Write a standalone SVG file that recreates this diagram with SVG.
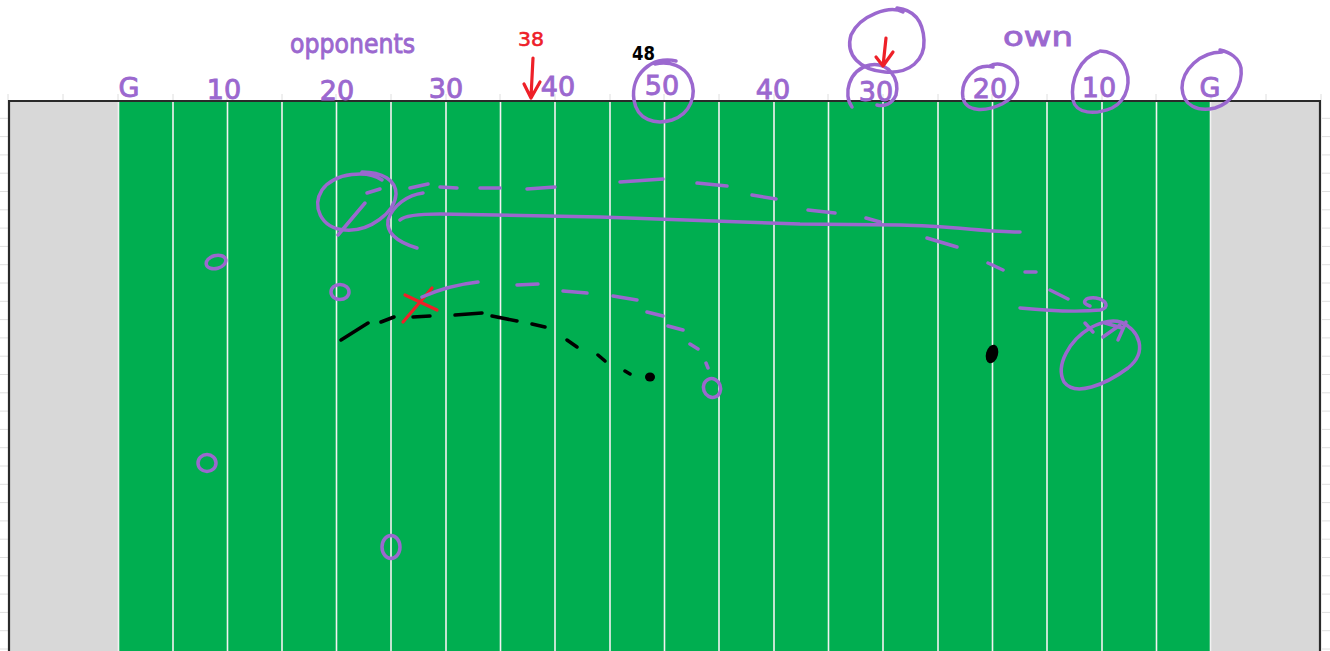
<svg xmlns="http://www.w3.org/2000/svg" width="1330" height="651" viewBox="0 0 1330 651">
<style>
.grid{stroke:#dedede;stroke-width:1}
.yard{stroke:#f2f2f2;stroke-width:1.6}
.pu{fill:none;stroke:#9b68cf;stroke-width:3.5;stroke-linecap:round;stroke-linejoin:round}
.bk{fill:none;stroke:#000;stroke-width:3.5;stroke-linecap:round}
.rd{fill:none;stroke:#ee2028;stroke-width:3.2;stroke-linecap:round;stroke-linejoin:round}
.num{font-family:"DejaVu Sans","Liberation Sans",sans-serif;font-size:27px;fill:#9b68cf;stroke:#9b68cf;stroke-width:0.9;text-anchor:middle}
.word{font-family:"DejaVu Sans","Liberation Sans",sans-serif;fill:#9b68cf;stroke:#9b68cf;stroke-width:0.9}
</style>
<rect width="1330" height="651" fill="#fff"/>
<g id="gridlines" class="grid">
<path d="M8,94V100M63,94V100M118,94V100M173,94V100M227,94V100M282,94V100M336,94V100M391,94V100M446,94V100M500,94V100M555,94V100M610,94V100M664,94V100M719,94V100M774,94V100M828,94V100M883,94V100M938,94V100M992,94V100M1047,94V100M1102,94V100M1156,94V100M1211,94V100M1266,94V100M1321,94V100"/>
<path d="M0,118.3H8M0,136.6H8M0,154.9H8M0,173.2H8M0,191.5H8M0,209.8H8M0,228.1H8M0,246.4H8M0,264.7H8M0,283H8M0,301.3H8M0,319.6H8M0,337.9H8M0,356.2H8M0,374.5H8M0,392.8H8M0,411.1H8M0,429.4H8M0,447.7H8M0,466H8M0,484.3H8M0,502.6H8M0,520.9H8M0,539.2H8M0,557.5H8M0,575.8H8M0,594.1H8M0,612.4H8M0,630.7H8M0,649H8"/>
<path d="M1322,118.3H1330M1322,136.6H1330M1322,154.9H1330M1322,173.2H1330M1322,191.5H1330M1322,209.8H1330M1322,228.1H1330M1322,246.4H1330M1322,264.7H1330M1322,283H1330M1322,301.3H1330M1322,319.6H1330M1322,337.9H1330M1322,356.2H1330M1322,374.5H1330M1322,392.8H1330M1322,411.1H1330M1322,429.4H1330M1322,447.7H1330M1322,466H1330M1322,484.3H1330M1322,502.6H1330M1322,520.9H1330M1322,539.2H1330M1322,557.5H1330M1322,575.8H1330M1322,594.1H1330M1322,612.4H1330M1322,630.7H1330M1322,649H1330"/>
</g>
<g id="field">
<rect x="8" y="100" width="110" height="560" fill="#d8d8d8"/>
<rect x="1211" y="100" width="110" height="560" fill="#d8d8d8"/>
<rect x="118" y="100" width="1093" height="560" fill="#00ae50"/>
<path class="yard" d="M118.5,100V651M173,100V651M227.5,100V651M282,100V651M336.5,100V651M391,100V651M446,100V651M500.5,100V651M555,100V651M610,100V651M664.5,100V651M719,100V651M774,100V651M828.5,100V651M883,100V651M938,100V651M992.5,100V651M1047,100V651M1102,100V651M1156.5,100V651M1210.5,100V651"/>
<path d="M9,660V101H1320V660" fill="none" stroke="#2a2a2a" stroke-width="2.2"/>
</g>
<g id="labels">
<text class="num" x="129" y="97">G</text>
<text class="num" x="224" y="99">10</text>
<text class="num" x="337" y="100">20</text>
<text class="num" x="446" y="98">30</text>
<text class="num" x="558" y="96">40</text>
<text class="num" x="662" y="95">50</text>
<text class="num" x="773" y="99">40</text>
<text class="num" x="876" y="101">30</text>
<text class="num" x="990" y="98">20</text>
<text class="num" x="1099" y="97">10</text>
<text class="num" x="1210" y="97">G</text>
<text class="word" x="290" y="53" font-size="26" textLength="125" lengthAdjust="spacingAndGlyphs">opponents</text>
<text class="word" x="1003" y="46" font-size="27" textLength="70" lengthAdjust="spacingAndGlyphs">own</text>
<text x="518" y="46" font-family="DejaVu Sans, sans-serif" font-size="20" fill="#ee2028" stroke="#ee2028" stroke-width="0.6" textLength="26" lengthAdjust="spacingAndGlyphs">38</text>
<text x="632" y="60" font-family="DejaVu Sans, sans-serif" font-size="19" font-weight="bold" fill="#000" textLength="23" lengthAdjust="spacingAndGlyphs">48</text>
</g>
<g id="marks">
<path class="pu" d="M676,61 C652,55 630,75 634,100 C637,120 655,125 672,120 C690,114 698,95 690,78 C684,66 670,61 655,64"/>
<path class="pu" d="M852,107 C843,95 848,70 870,65 C888,62 900,78 896,95 C892,104 884,107 877,105"/>
<path class="pu" d="M903,12 C890,5 860,15 851,35 C845,55 860,70 885,72 C910,74 925,60 924,40 C923,22 915,10 897,8"/>
<path class="pu" d="M993,67 C975,63 960,80 963,98 C966,112 985,112 1002,104 C1018,96 1022,80 1012,70 C1004,63 995,63 990,66"/>
<path class="pu" d="M1098,52 C1080,58 1070,80 1073,100 C1076,114 1095,115 1112,108 C1128,100 1132,80 1124,65 C1118,55 1108,51 1100,51"/>
<path class="pu" d="M1222,52 C1200,52 1182,70 1182,88 C1183,106 1198,112 1215,108 C1232,103 1243,85 1241,68 C1239,58 1230,52 1220,50"/>
<path class="rd" d="M533,58 L531,97 M524,84 L531,98 L540,82"/>
<path class="rd" d="M886,38 L883,66 M876,57 L883,66 L893,52"/>
</g>
<g id="player-circle-left">
<path class="pu" d="M382,180 C368,170 335,172 322,190 C312,206 320,228 345,230 C370,232 395,212 396,194 C396,180 382,172 362,172"/>
<path class="pu" d="M338,235 L365,203 M367,193 L380,189"/>
<path class="pu" d="M423,193 C408,195 393,205 388,220 C386,233 397,242 417,248"/>
</g>
<g id="player-circle-right">
<path class="pu" d="M1120,322 C1140,330 1148,352 1128,368 C1105,385 1075,397 1064,382 C1055,365 1070,340 1090,328 C1105,320 1118,318 1128,326"/>
<path class="pu" d="M1085,323 L1093,332 M1105,323 L1122,328 M1103,337 L1120,325 M1118,340 L1126,322"/>
<path class="pu" d="M1020,308 C1050,311 1080,312 1100,310 C1110,308 1107,300 1096,298 C1085,297 1080,303 1090,306"/>
</g>
<g id="players">
<ellipse class="pu" cx="216" cy="262" rx="10" ry="6.5" transform="rotate(-15 216 262)"/>
<ellipse class="pu" cx="340" cy="292" rx="9" ry="7.5"/>
<ellipse class="pu" cx="207" cy="463" rx="9" ry="8.5"/>
<ellipse class="pu" cx="391" cy="547" rx="9" ry="11.5"/>
<ellipse class="pu" cx="712" cy="388" rx="8.5" ry="9.5" transform="rotate(-20 712 388)"/>
<ellipse cx="650" cy="377" rx="5" ry="4.5" fill="#000"/>
<ellipse cx="992" cy="354" rx="6" ry="9.5" transform="rotate(15 992 354)" fill="#000"/>
<path class="rd" d="M405,295 L437,310 M432,288 L403,322"/>
</g>
<g id="connectors">
<path class="pu" d="M400,220 C405,215 420,214 440,214 L600,217 L800,224 L900,225 C950,226 990,232 1020,232"/>
<path class="pu" d="M410,188 L428,184 M440,187 L457,188 M480,188 L500,188 M527,189 L555,187 M620,182 L663,179 M697,183 L727,186 M752,195 L776,199 M808,210 L835,213 M866,218 L880,222 M927,238 L957,247 M988,263 L1003,270 M1025,272 L1036,272 M1050,290 L1068,299"/>
<path class="pu" d="M422,297 C440,289 460,284 478,282 M517,285 L538,284 M563,291 L587,293 M613,296 L637,300 M647,312 L663,316 M668,326 L683,330 M690,344 L698,349 M706,363 L708,368"/>
<path class="bk" d="M341,340 L368,323 M381,322 L394,317 M413,317 L430,316 M455,315 L482,313 M492,316 L517,321 M532,324 L545,327 M567,340 L577,347 M598,355 L605,361 M625,371 L630,374"/>
</g>
</svg>
